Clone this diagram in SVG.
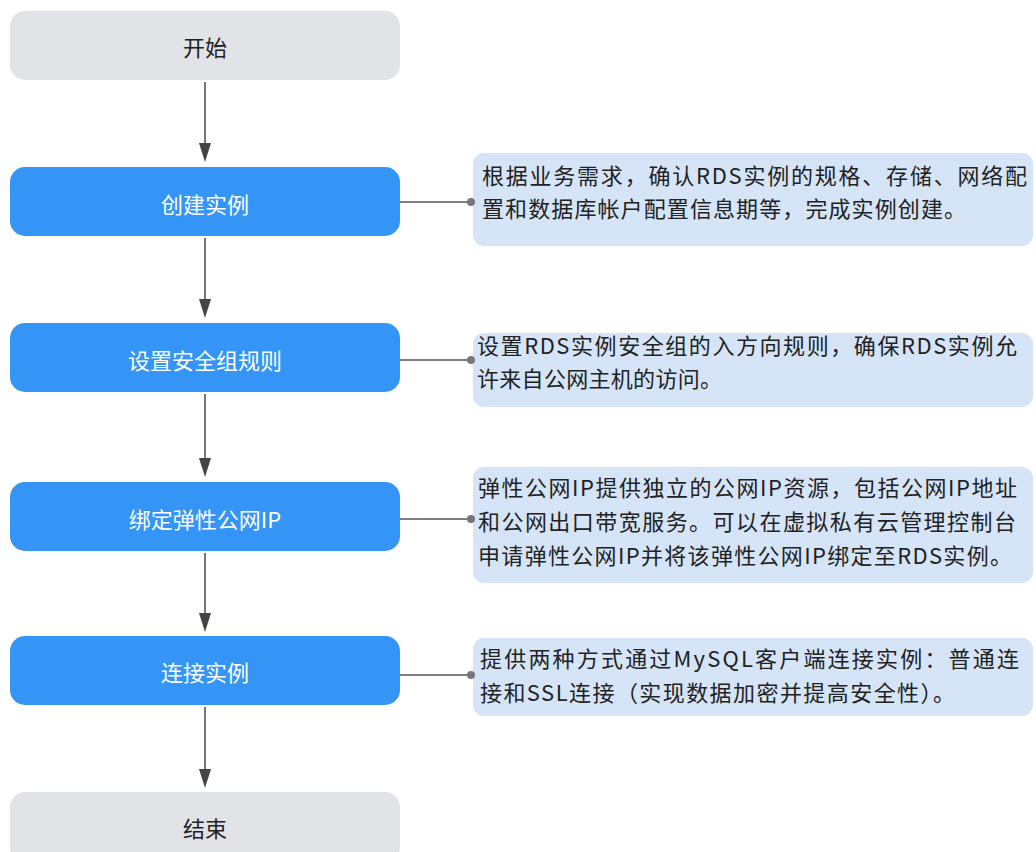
<svg xmlns="http://www.w3.org/2000/svg" width="1036" height="852" viewBox="0 0 1036 852">
<style>
.term{fill:#e1e3e6}
.step{fill:#3595f6}
.desc{fill:#d5e5f7}
.lbl{font-family:"Noto Sans CJK SC","Liberation Sans",sans-serif;font-size:22px;text-anchor:middle;dominant-baseline:central}
.lt{fill:#222}
.lw{fill:#ffffff}
.dt{font-family:"Noto Sans CJK SC","Liberation Sans",sans-serif;font-size:22px;fill:#222}
.ln{stroke:#555;stroke-width:1.6;fill:none}
.ah{fill:#444}
.dot{fill:#777}
</style>
<rect width="1036" height="852" fill="#ffffff"/>
<g id="start"><rect class="term" x="10" y="11" width="390" height="69" rx="15"/><text class="lbl lt" x="205" y="46">开始</text></g>
<g id="create"><rect class="step" x="10" y="167" width="390" height="69" rx="15"/><text class="lbl lw" x="205" y="203">创建实例</text></g>
<g id="secgroup"><rect class="step" x="10" y="323" width="390" height="69" rx="15"/><text class="lbl lw" x="205" y="359">设置安全组规则</text></g>
<g id="eip"><rect class="step" x="10" y="482" width="390" height="69" rx="15"/><text class="lbl lw" x="205" y="518">绑定弹性公网IP</text></g>
<g id="connect"><rect class="step" x="10" y="636" width="390" height="69" rx="15"/><text class="lbl lw" x="205" y="671">连接实例</text></g>
<g id="end"><rect class="term" x="10" y="792" width="390" height="70" rx="15"/><text class="lbl lt" x="205" y="827">结束</text></g>
<g id="desc1"><rect class="desc" x="473" y="153" width="560" height="93" rx="11"/>
<text class="dt" x="482" y="184" textLength="545" lengthAdjust="spacing">根据业务需求，确认RDS实例的规格、存储、网络配</text>
<text class="dt" x="482" y="217" textLength="484" lengthAdjust="spacing">置和数据库帐户配置信息期等，完成实例创建。</text></g>
<g id="desc2"><rect class="desc" x="473" y="333" width="560" height="74" rx="11"/>
<text class="dt" x="477" y="354" textLength="540" lengthAdjust="spacing">设置RDS实例安全组的入方向规则，确保RDS实例允</text>
<text class="dt" x="477" y="387" textLength="245" lengthAdjust="spacing">许来自公网主机的访问。</text></g>
<g id="desc3"><rect class="desc" x="473" y="467" width="560" height="116" rx="11"/>
<text class="dt" x="478" y="496" textLength="539" lengthAdjust="spacing">弹性公网IP提供独立的公网IP资源，包括公网IP地址</text>
<text class="dt" x="478" y="530" textLength="538" lengthAdjust="spacing">和公网出口带宽服务。可以在虚拟私有云管理控制台</text>
<text class="dt" x="478" y="564" textLength="534" lengthAdjust="spacing">申请弹性公网IP并将该弹性公网IP绑定至RDS实例。</text></g>
<g id="desc4"><rect class="desc" x="473" y="638" width="560" height="78" rx="11"/>
<text class="dt" x="480" y="667" textLength="539" lengthAdjust="spacing">提供两种方式通过MySQL客户端连接实例：普通连</text>
<text class="dt" x="480" y="701" textLength="475" lengthAdjust="spacing">接和SSL连接（实现数据加密并提高安全性）。</text></g>
<g id="connectors">
<line class="ln" x1="205" y1="82" x2="205" y2="145"/><path class="ah" d="M199,143 L211,143 L205,162 Z"/>
<line class="ln" x1="205" y1="238" x2="205" y2="301"/><path class="ah" d="M199,299 L211,299 L205,318 Z"/>
<line class="ln" x1="205" y1="394" x2="205" y2="460"/><path class="ah" d="M199,458 L211,458 L205,477 Z"/>
<line class="ln" x1="205" y1="553" x2="205" y2="615"/><path class="ah" d="M199,613 L211,613 L205,632 Z"/>
<line class="ln" x1="205" y1="707" x2="205" y2="771"/><path class="ah" d="M199,769 L211,769 L205,788 Z"/>
<line class="ln" x1="400" y1="202" x2="470" y2="202"/><circle class="dot" cx="471" cy="202" r="4"/>
<line class="ln" x1="400" y1="360" x2="470" y2="360"/><circle class="dot" cx="471" cy="360" r="4"/>
<line class="ln" x1="400" y1="519" x2="470" y2="519"/><circle class="dot" cx="471" cy="519" r="4"/>
<line class="ln" x1="400" y1="675" x2="470" y2="675"/><circle class="dot" cx="471" cy="675" r="4"/>
</g>
</svg>
